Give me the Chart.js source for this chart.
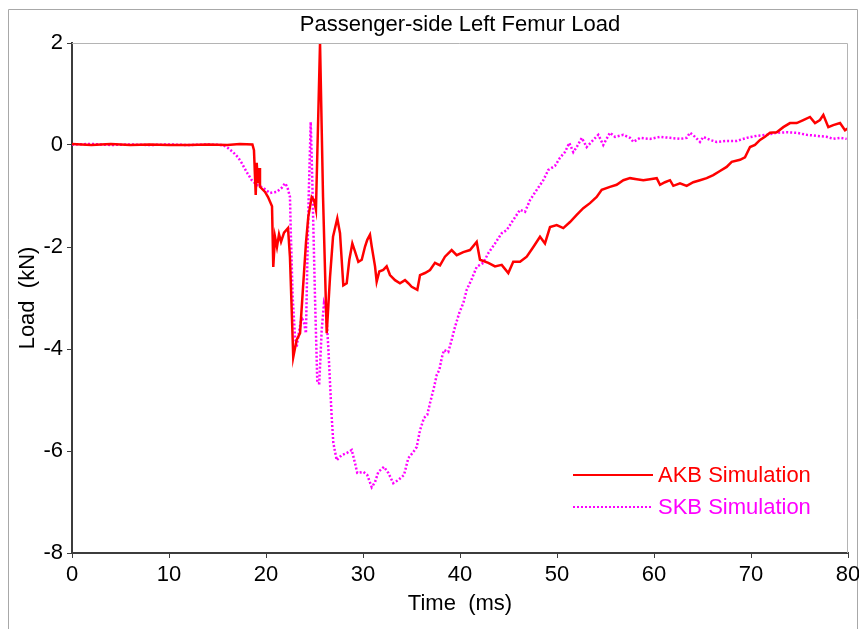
<!DOCTYPE html>
<html>
<head>
<meta charset="utf-8">
<title>Passenger-side Left Femur Load</title>
<script src="https://cdn.jsdelivr.net/npm/chart.js@4.4.1/dist/chart.umd.min.js"></script>
<style>
  html, body { margin: 0; padding: 0; background: #fff; }
  #wrap { width: 859px; height: 629px; position: relative; }
</style>
</head>
<body>
<div id="wrap"><canvas id="femurChart" width="859" height="629"></canvas></div>
<script>
'use strict'

// Time (ms) / load (kN) samples for the two simulations
const akbTime = [0, 2, 4, 6, 8, 10, 12, 14, 16, 17.3, 18.6, 18.76, 18.94, 19.04, 19.18, 19.28, 19.38, 19.9, 20.21, 20.62, 20.75, 20.93, 21.13, 21.34, 21.55, 21.86, 22.27, 22.47, 22.81, 23.16, 23.51, 23.85, 24.12, 24.36, 24.71, 24.95, 25.15, 25.57, 25.88, 26.26, 26.6, 26.91, 27.35, 27.63, 27.97, 28.32, 28.59, 28.9, 29.18, 29.52, 29.87, 30.21, 30.44, 30.72, 30.9, 31.24, 31.41, 31.68, 32.09, 32.44, 32.78, 33.3, 33.81, 34.33, 34.67, 35.02, 35.6, 35.88, 36.39, 36.91, 37.42, 37.94, 38.45, 39.14, 39.66, 40.34, 41.03, 41.72, 42.06, 42.92, 43.61, 44.3, 44.98, 45.49, 46.19, 46.88, 47.56, 48.25, 48.76, 49.28, 49.97, 50.65, 51.34, 52.03, 52.71, 53.4, 54.09, 54.61, 55.46, 56.15, 56.84, 57.53, 58.22, 58.9, 59.59, 60.28, 60.62, 61.13, 61.65, 61.99, 62.68, 63.37, 64.05, 64.74, 65.43, 66.11, 66.8, 67.49, 68.01, 68.87, 69.38, 69.9, 70.41, 70.93, 71.44, 71.96, 72.65, 73.33, 74.02, 74.71, 75.39, 76.08, 76.6, 77.11, 77.46, 77.97, 78.48, 79.18, 79.69, 80]
const akbLoad = [0.02, 0, 0.02, 0, 0.01, 0, 0, 0.01, 0, 0.02, 0.01, -0.1, -0.98, -0.35, -0.75, -0.45, -0.82, -0.92, -1.02, -1.2, -2.39, -1.8, -2.0, -1.75, -1.9, -1.72, -1.63, -2.2, -4.16, -3.82, -3.69, -2.7, -1.92, -1.41, -1.02, -1.08, -1.27, 2.0, -1.02, -3.69, -2.59, -1.8, -1.44, -1.73, -2.75, -2.71, -2.25, -1.93, -2.09, -2.29, -2.25, -1.99, -1.86, -1.76, -1.99, -2.38, -2.68, -2.48, -2.45, -2.38, -2.55, -2.65, -2.71, -2.65, -2.71, -2.78, -2.84, -2.55, -2.51, -2.45, -2.31, -2.36, -2.19, -2.06, -2.16, -2.1, -2.06, -1.9, -2.25, -2.31, -2.38, -2.35, -2.51, -2.29, -2.29, -2.19, -2.0, -1.8, -1.93, -1.61, -1.57, -1.63, -1.51, -1.37, -1.24, -1.14, -1.02, -0.88, -0.82, -0.78, -0.69, -0.65, -0.67, -0.69, -0.67, -0.65, -0.78, -0.73, -0.69, -0.8, -0.75, -0.8, -0.73, -0.69, -0.65, -0.59, -0.51, -0.43, -0.33, -0.29, -0.24, -0.04, 0, 0.1, 0.16, 0.24, 0.25, 0.35, 0.43, 0.43, 0.49, 0.55, 0.43, 0.49, 0.59, 0.35, 0.39, 0.43, 0.29, 0.33]

const skbTime = [0, 2, 4, 6, 8, 10, 12, 14, 15.57, 16.08, 16.6, 17.11, 17.49, 18.01, 18.53, 19.04, 19.72, 20.41, 21.1, 21.62, 21.96, 22.2, 22.47, 22.55, 22.75, 22.99, 23.16, 23.43, 23.68, 23.92, 24.12, 24.26, 24.4, 24.61, 24.77, 25.05, 25.29, 25.49, 25.74, 25.98, 26.19, 26.42, 26.67, 26.77, 26.94, 27.29, 27.8, 28.32, 28.84, 29.18, 29.41, 30.03, 30.44, 30.9, 31.24, 31.58, 32.16, 32.61, 33.12, 33.64, 34.23, 34.67, 35.19, 35.54, 35.88, 36.29, 36.63, 36.91, 37.32, 37.6, 37.87, 38.11, 38.35, 38.79, 39.14, 39.48, 39.93, 40.34, 40.69, 41.21, 41.72, 42.4, 42.92, 43.61, 44.3, 44.81, 45.49, 46.19, 46.7, 47.22, 47.91, 48.59, 49.1, 49.79, 50.31, 50.82, 51.27, 51.68, 52.03, 52.55, 53.06, 53.74, 54.26, 54.77, 55.46, 55.98, 56.84, 57.53, 57.87, 58.56, 59.59, 60.62, 61.65, 62.68, 63.37, 63.71, 64.23, 64.74, 65.08, 65.77, 66.46, 67.49, 68.53, 69.56, 70.59, 71.62, 72.65, 73.68, 74.71, 75.74, 76.77, 77.8, 78.48, 79.18, 79.86]
const skbLoad = [0.01, 0.02, 0, 0.01, 0, 0.01, 0, 0.01, 0, -0.06, -0.14, -0.24, -0.35, -0.53, -0.69, -0.78, -0.84, -0.94, -0.92, -0.84, -0.75, -0.82, -1.02, -1.67, -2.98, -3.76, -3.96, -3.63, -3.37, -3.49, -3.69, -2.3, -1.02, 0.45, -0.69, -2.98, -4.67, -4.67, -3.63, -3.1, -3.24, -3.96, -4.94, -5.33, -5.84, -6.18, -6.08, -6.04, -5.98, -6.24, -6.43, -6.41, -6.47, -6.71, -6.61, -6.41, -6.31, -6.43, -6.63, -6.57, -6.47, -6.14, -6.02, -5.92, -5.59, -5.35, -5.29, -5.06, -4.75, -4.51, -4.41, -4.18, -4.02, -4.06, -3.82, -3.57, -3.29, -3.1, -2.84, -2.63, -2.39, -2.31, -2.12, -1.93, -1.73, -1.67, -1.47, -1.27, -1.31, -1.08, -0.88, -0.69, -0.49, -0.41, -0.25, -0.14, 0.04, -0.14, -0.04, 0.14, -0.04, 0.1, 0.2, 0, 0.24, 0.16, 0.2, 0.14, 0.06, 0.14, 0.12, 0.16, 0.14, 0.12, 0.14, 0.24, 0.16, 0.06, 0.16, 0.1, 0.06, 0.08, 0.08, 0.14, 0.18, 0.2, 0.24, 0.25, 0.24, 0.2, 0.18, 0.16, 0.12, 0.14, 0.12]

const seriesNames = ['AKB Simulation', 'SKB Simulation']
const chartTitle = 'Passenger-side Left Femur Load'
const xTitle = 'Time  (ms)'
const yTitle = 'Load  (kN)'

const FONT = '"Liberation Sans", Arial, sans-serif'
const FONT_SIZE = 22
const AXIS_DARK = '#3c3c3c'

const toPoints = (xs, ys) => xs.map((x, i) => ({ x: x, y: ys[i] }))

// frame, title, top/right plot border and the in-plot legend
const decorations = {
  id: 'decorations',
  beforeDraw(chart) {
    const { ctx } = chart
    ctx.save()
    ctx.strokeStyle = '#a8a8a8'
    ctx.lineWidth = 1
    ctx.beginPath()
    ctx.moveTo(8.5, 640)
    ctx.lineTo(8.5, 9.5)
    ctx.lineTo(857.5, 9.5)
    ctx.lineTo(857.5, 640)
    ctx.stroke()
    ctx.restore()
  },
  afterDraw(chart) {
    const { ctx, chartArea: a } = chart
    ctx.save()
    ctx.strokeStyle = '#b4b4b4'
    ctx.lineWidth = 1
    ctx.beginPath()
    ctx.moveTo(a.left, a.top + 0.5)
    ctx.lineTo(a.right - 0.5, a.top + 0.5)
    ctx.lineTo(a.right - 0.5, a.bottom)
    ctx.stroke()

    ctx.fillStyle = '#000'
    ctx.font = FONT_SIZE + 'px ' + FONT
    ctx.textAlign = 'center'
    ctx.textBaseline = 'middle'
    ctx.fillText(chartTitle, (a.left + a.right) / 2, 25)

    // legend rows
    ctx.textAlign = 'left'
    chart.data.datasets.forEach((ds, i) => {
      const y = a.bottom - 78 + i * 32
      const x0 = a.right - 275
      ctx.strokeStyle = ds.borderColor
      ctx.lineWidth = 2
      ctx.setLineDash(ds.borderDash || [])
      ctx.beginPath()
      ctx.moveTo(x0, y)
      ctx.lineTo(x0 + 80, y)
      ctx.stroke()
      ctx.setLineDash([])
      ctx.fillStyle = ds.borderColor
      ctx.fillText(ds.label, x0 + 85, y + 1)
    })
    ctx.restore()
  }
}

const ctx = document.getElementById('femurChart')
new Chart(ctx, {
  type: 'line',
  data: {
    datasets: [{
      label: seriesNames[0],
      data: toPoints(akbTime, akbLoad),
      borderColor: '#ff0000',
      borderWidth: 2.5,
      pointRadius: 0,
      tension: 0
    }, {
      label: seriesNames[1],
      data: toPoints(skbTime, skbLoad),
      borderColor: '#ff00ff',
      borderWidth: 2.5,
      borderDash: [2, 2],
      pointRadius: 0,
      tension: 0
    }]
  },
  options: {
    responsive: false,
    animation: false,
    layout: { padding: { top: 43, right: 11, left: 0, bottom: 0 } },
    plugins: {
      legend: { display: false },
      title: { display: false },
      tooltip: { enabled: false }
    },
    scales: {
      x: {
        type: 'linear',
        min: 0,
        max: 80,
        ticks: {
          stepSize: 10,
          color: '#000',
          padding: 4,
          font: { family: FONT, size: FONT_SIZE }
        },
        grid: { drawOnChartArea: false, tickLength: 5, color: AXIS_DARK },
        border: { color: AXIS_DARK, width: 2 },
        title: {
          display: true,
          text: xTitle,
          color: '#000',
          font: { family: FONT, size: FONT_SIZE },
          padding: { top: 0, bottom: 12 }
        },
        afterFit(scale) {
          scale.height = 76
          scale.paddingLeft = 0
          scale.paddingRight = 0
        }
      },
      y: {
        min: -8,
        max: 2,
        ticks: {
          stepSize: 2,
          color: '#000',
          padding: 4,
          font: { family: FONT, size: FONT_SIZE }
        },
        grid: { drawOnChartArea: false, tickLength: 5, color: AXIS_DARK },
        border: { color: AXIS_DARK, width: 2 },
        title: {
          display: true,
          text: yTitle,
          color: '#000',
          font: { family: FONT, size: FONT_SIZE },
          padding: { top: 15, bottom: 0 }
        },
        afterFit(scale) {
          scale.width = 72
          scale.paddingTop = 0
          scale.paddingBottom = 0
        }
      }
    }
  },
  plugins: [decorations]
})
</script>
</body>
</html>
